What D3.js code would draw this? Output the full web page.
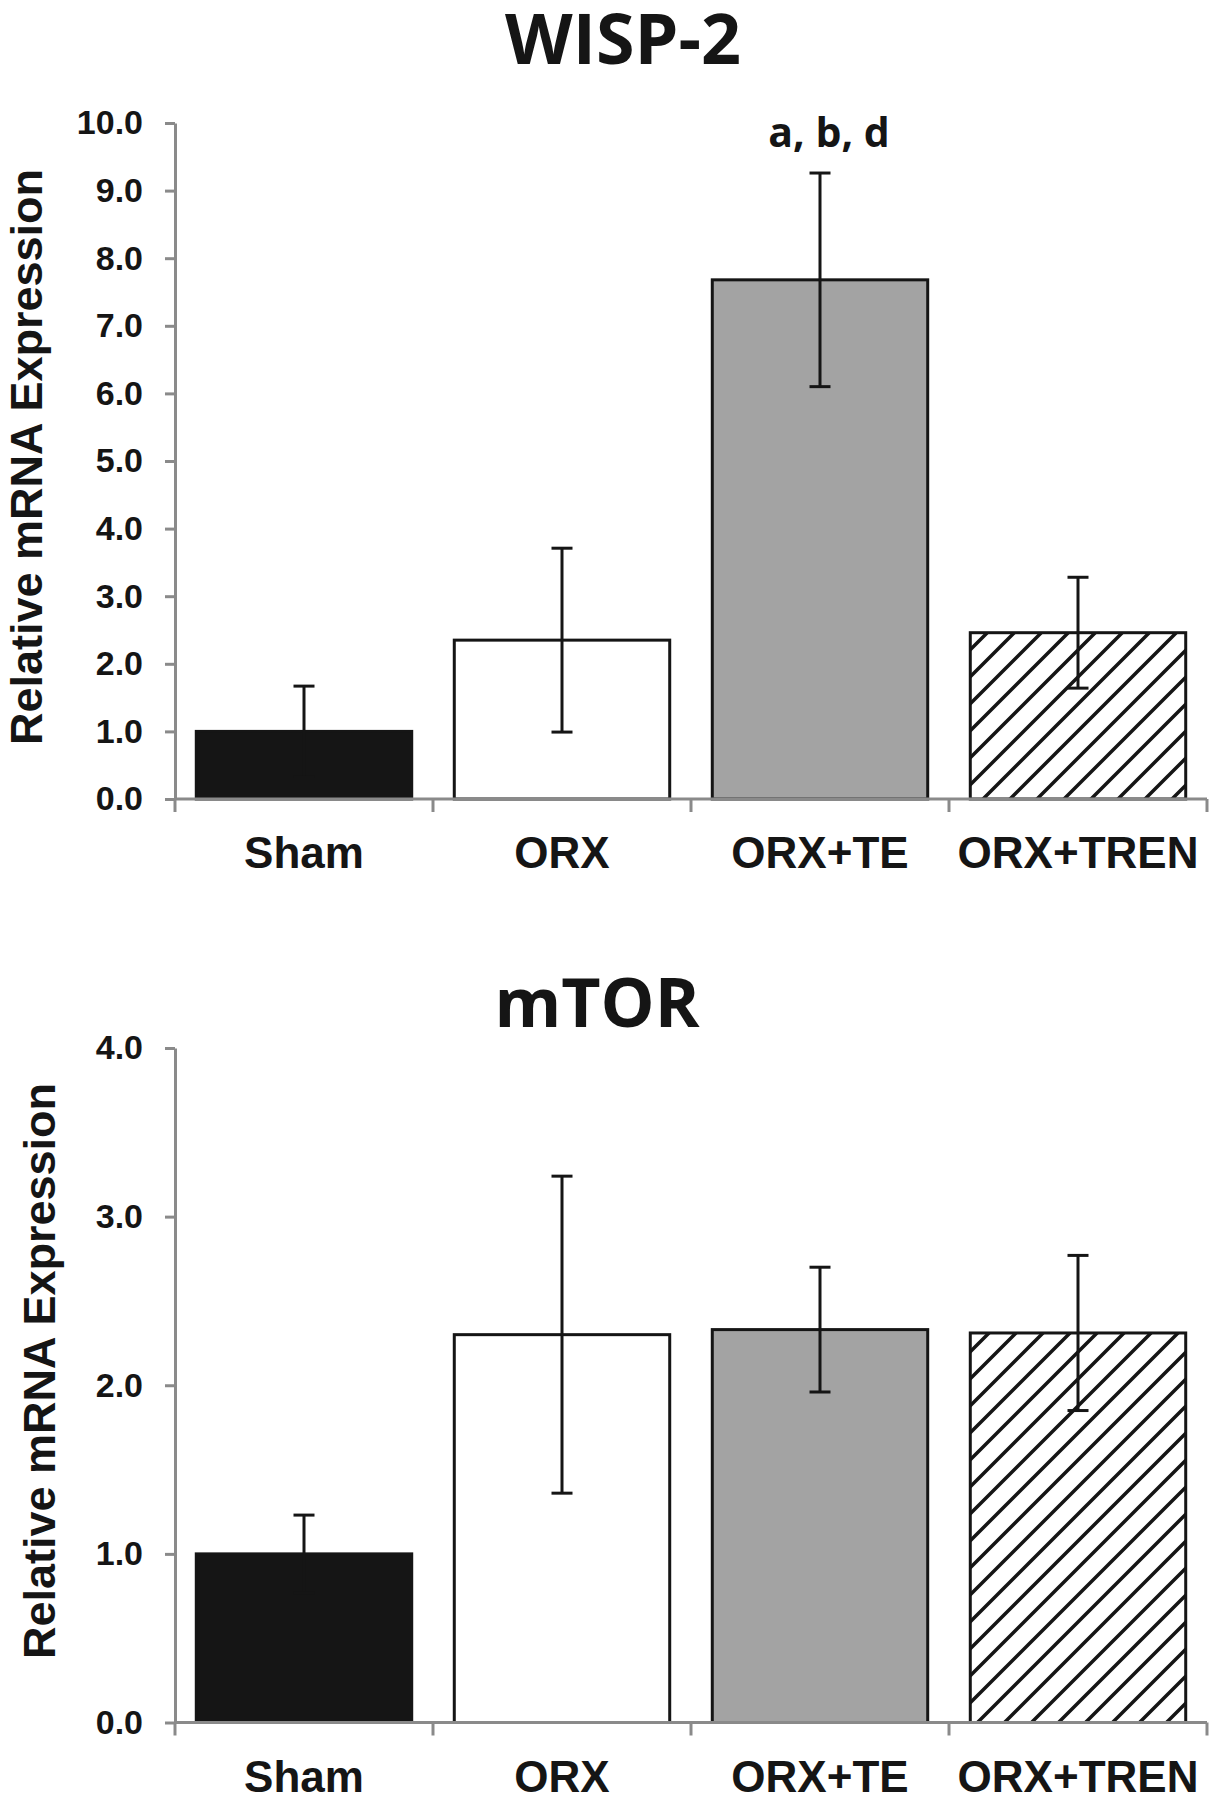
<!DOCTYPE html>
<html>
<head>
<meta charset="utf-8">
<script src="https://cdn.jsdelivr.net/npm/d3@7"></script>
<style>
  html, body { margin: 0; padding: 0; background: #fff; }
  svg { display: block; }
</style>
</head>
<body>
<svg id="chart" width="1216" height="1800"></svg>
<script>
// ---- data ----
const categories = ["Sham", "ORX", "ORX+TE", "ORX+TREN"];
const wispMeans  = [1.00, 2.35, 7.68, 2.46];
const wispErrors = [0.67, 1.36, 1.58, 0.82];
const mtorMeans  = [1.00, 2.30, 2.33, 2.31];
const mtorErrors = [0.23, 0.94, 0.37, 0.46];
const wispTicks  = [0, 1, 2, 3, 4, 5, 6, 7, 8, 9, 10];
const mtorTicks  = [0, 1, 2, 3, 4];
const wispTitle  = "WISP-2";
const mtorTitle  = "mTOR";
const wispNote   = "a, b, d";
const yLabel     = "Relative mRNA Expression";

const svg = d3.select("#chart");
const ink = "#151515";

// hatch pattern
const defs = svg.append("defs");
const pat = defs.append("pattern")
  .attr("id", "hatch").attr("patternUnits", "userSpaceOnUse")
  .attr("width", 27).attr("height", 27);
pat.append("rect").attr("width", 27).attr("height", 27).attr("fill", "#fff");
pat.append("path")
  .attr("d", "M-4,4 l8,-8 M0,27 l27,-27 M23,31 l8,-8")
  .attr("stroke", ink).attr("stroke-width", 3.5);

const fills = [ink, "#ffffff", "#a3a3a3", "url(#hatch)"];
const axisColor = "#8a8a8a";

function panel(opts) {
  const { means, errors, ticks, yMax, top, bottom, title, titleX, titleY, titleSize, labelX, labelY, note } = opts;
  const left = 175, right = 1207;
  const x = d3.scaleBand().domain(categories).range([left, right])
    .paddingInner(0.165).paddingOuter(0.0825);
  const y = d3.scaleLinear().domain([0, yMax]).range([bottom, top]);
  const g = svg.append("g");

  // bars
  g.selectAll("rect.bar").data(categories).enter().append("rect")
    .attr("class", "bar")
    .attr("x", d => x(d))
    .attr("y", (d, i) => y(means[i]))
    .attr("width", x.bandwidth())
    .attr("height", (d, i) => y(0) - y(means[i]))
    .attr("fill", (d, i) => fills[i])
    .attr("stroke", ink).attr("stroke-width", 3);

  // y axis
  const ya = g.append("g").attr("transform", `translate(${left},0)`)
    .call(d3.axisLeft(y).tickValues(ticks).tickFormat(d3.format(".1f"))
      .tickSize(10).tickSizeOuter(0).tickPadding(22));
  ya.select(".domain").attr("stroke", axisColor).attr("stroke-width", 3);
  ya.selectAll(".tick line").attr("stroke", axisColor).attr("stroke-width", 3);
  ya.selectAll(".tick text").attr("fill", ink)
    .attr("font-family", "'Liberation Sans', Arial, sans-serif")
    .attr("font-weight", "bold").attr("font-size", 34);

  // x axis line with boundary ticks
  const xa = g.append("g").attr("transform", `translate(0,${bottom})`)
    .call(d3.axisBottom(x).tickSize(0).tickPadding(38));
  xa.select(".domain").attr("stroke", axisColor).attr("stroke-width", 3)
    .attr("d", `M${left},0H${right}`);
  xa.selectAll(".tick text").attr("fill", ink)
    .attr("font-family", "'Liberation Sans', Arial, sans-serif")
    .attr("font-weight", "bold").attr("font-size", 44);
  const bounds = d3.range(categories.length + 1).map(i => left + i * x.step());
  xa.selectAll("line.bound").data(bounds).enter().append("line")
    .attr("class", "bound")
    .attr("x1", d => d).attr("x2", d => d)
    .attr("y1", 0).attr("y2", 13)
    .attr("stroke", axisColor).attr("stroke-width", 3);

  // error bars
  const cap = 10.5;
  const eb = g.selectAll("g.err").data(categories).enter().append("g").attr("class", "err");
  eb.append("line")
    .attr("x1", d => x(d) + x.bandwidth() / 2).attr("x2", d => x(d) + x.bandwidth() / 2)
    .attr("y1", (d, i) => y(means[i] + errors[i]))
    .attr("y2", (d, i) => y(means[i] - errors[i]))
    .attr("stroke", ink).attr("stroke-width", 3);
  eb.append("line")
    .attr("x1", d => x(d) + x.bandwidth() / 2 - cap).attr("x2", d => x(d) + x.bandwidth() / 2 + cap)
    .attr("y1", (d, i) => y(means[i] + errors[i])).attr("y2", (d, i) => y(means[i] + errors[i]))
    .attr("stroke", ink).attr("stroke-width", 3);
  eb.append("line")
    .attr("x1", d => x(d) + x.bandwidth() / 2 - cap).attr("x2", d => x(d) + x.bandwidth() / 2 + cap)
    .attr("y1", (d, i) => y(means[i] - errors[i])).attr("y2", (d, i) => y(means[i] - errors[i]))
    .attr("stroke", ink).attr("stroke-width", 3);

  // title
  svg.append("text").attr("x", titleX).attr("y", titleY)
    .attr("text-anchor", "middle").attr("fill", ink)
    .attr("font-family", "'Open Sans', sans-serif").attr("font-weight", "bold")
    .attr("font-size", titleSize).text(title);

  // y label
  svg.append("text")
    .attr("transform", `translate(${labelX},${labelY}) rotate(-90)`)
    .attr("text-anchor", "middle").attr("fill", ink)
    .attr("font-family", "'Liberation Sans', Arial, sans-serif").attr("font-weight", "bold")
    .attr("font-size", 45).text(yLabel);

  if (note) {
    const i = categories.indexOf(note.cat);
    svg.append("text")
      .attr("x", x(note.cat) + x.bandwidth() / 2 + 9)
      .attr("y", y(means[i] + errors[i]) - 26)
      .attr("text-anchor", "middle").attr("fill", ink)
      .attr("font-family", "'Open Sans', sans-serif").attr("font-weight", "bold")
      .attr("font-size", 41).text(note.text);
  }
}

panel({ means: wispMeans, errors: wispErrors, ticks: wispTicks, yMax: 10,
  top: 123, bottom: 799, title: wispTitle, titleX: 623, titleY: 64, titleSize: 70,
  labelX: 42, labelY: 457, note: { cat: "ORX+TE", text: wispNote } });

panel({ means: mtorMeans, errors: mtorErrors, ticks: mtorTicks, yMax: 4,
  top: 1048, bottom: 1722.5, title: mtorTitle, titleX: 597, titleY: 1027, titleSize: 68,
  labelX: 55, labelY: 1371, note: null });
</script>
</body>
</html>
